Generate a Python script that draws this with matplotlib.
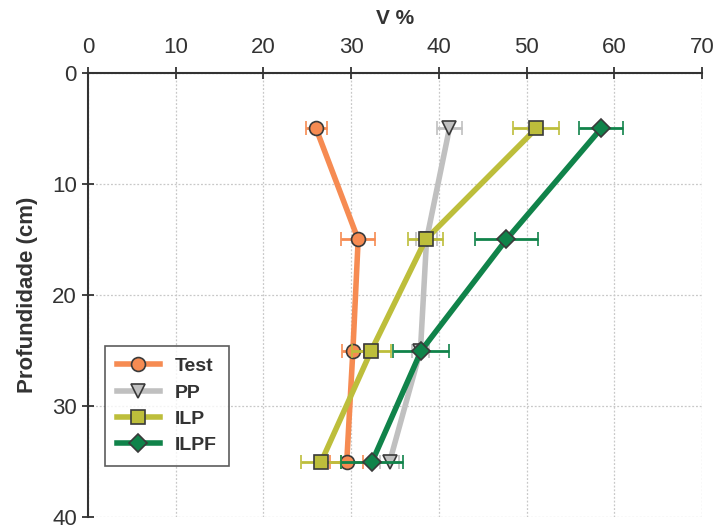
import numpy as np
import matplotlib
matplotlib.use('Agg')
import matplotlib.pyplot as plt
from matplotlib.lines import Line2D

plt.rcParams['font.family'] = ['Liberation Sans', 'DejaVu Sans']

depth = [5, 15, 25, 35]

# V % per treatment and its standard error
test_v = [26.0, 30.8, 30.2, 29.5]
test_err = [1.2, 1.9, 1.25, 1.9]
pp_v = [41.2, 38.6, 37.9, 34.4]
pp_err = [1.4, 1.2, 1.0, 1.1]
ilp_v = [51.1, 38.5, 32.3, 26.6]
ilp_err = [2.6, 2.0, 2.2, 2.3]
ilpf_v = [58.5, 47.7, 38.0, 32.4]
ilpf_err = [2.5, 3.6, 3.2, 3.5]

series = [
    ("Test", test_v, test_err, "#F68B52", "o", 10),
    ("PP", pp_v, pp_err, "#C0C0C0", "v", 10),
    ("ILP", ilp_v, ilp_err, "#BDBE3B", "s", 10),
    ("ILPF", ilpf_v, ilpf_err, "#10834A", "D", 9),
]

fig = plt.figure(figsize=(7.17, 5.25), dpi=100)
ax = fig.add_axes([88 / 717, 1 - 517 / 525, 614 / 717, 444 / 525])

handles = []
for i, (name, v, err, color, mk, ms) in enumerate(series):
    ax.errorbar(v, depth, xerr=err, color=color, lw=4, marker=mk, ms=ms,
                mfc=color, mec="#3a3a3a", mew=1.2, ecolor=color,
                elinewidth=2, capsize=5, capthick=2, zorder=3 + i)
    handles.append(Line2D([], [], color=color, lw=4, marker=mk, ms=ms,
                          mfc=color, mec="#3a3a3a", mew=1.2, label=name))

ax.set_xlim(0, 70)
ax.set_ylim(40, 0)
ax.set_xticks(np.arange(0, 71, 10))
ax.set_yticks(np.arange(0, 41, 10))
ax.xaxis.tick_top()
ax.xaxis.set_label_position('top')
ax.tick_params(direction='inout', length=8, width=1.3, color="#333333",
               labelsize=16, labelcolor="#333333", pad=4)
ax.tick_params(axis='x', pad=7)
ax.grid(True, ls=(0, (1.5, 1.5)), color="#c8c8c8", lw=0.9)
ax.set_axisbelow(True)

for side in ['right', 'bottom']:
    ax.spines[side].set_visible(False)
for side in ['left', 'top']:
    ax.spines[side].set_color("#333333")
    ax.spines[side].set_linewidth(1.5)

ax.set_xlabel("V %", fontsize=15, fontweight='bold', color="#333333", labelpad=9)
ax.set_ylabel("Profundidade (cm)", fontsize=16, fontweight='bold', color="#333333", labelpad=10)

leg = ax.legend(handles=handles, loc='lower left', bbox_to_anchor=(0.028, 0.115),
                prop={'weight': 'bold', 'size': 14}, frameon=True, fancybox=False,
                handlelength=2.2, borderpad=0.6, labelspacing=0.45, handletextpad=0.8,
                borderaxespad=0)
leg.get_frame().set_edgecolor("#333333")
leg.get_frame().set_linewidth(1.2)
for t in leg.get_texts():
    t.set_color("#333333")

fig.savefig("out.png", dpi=100)
